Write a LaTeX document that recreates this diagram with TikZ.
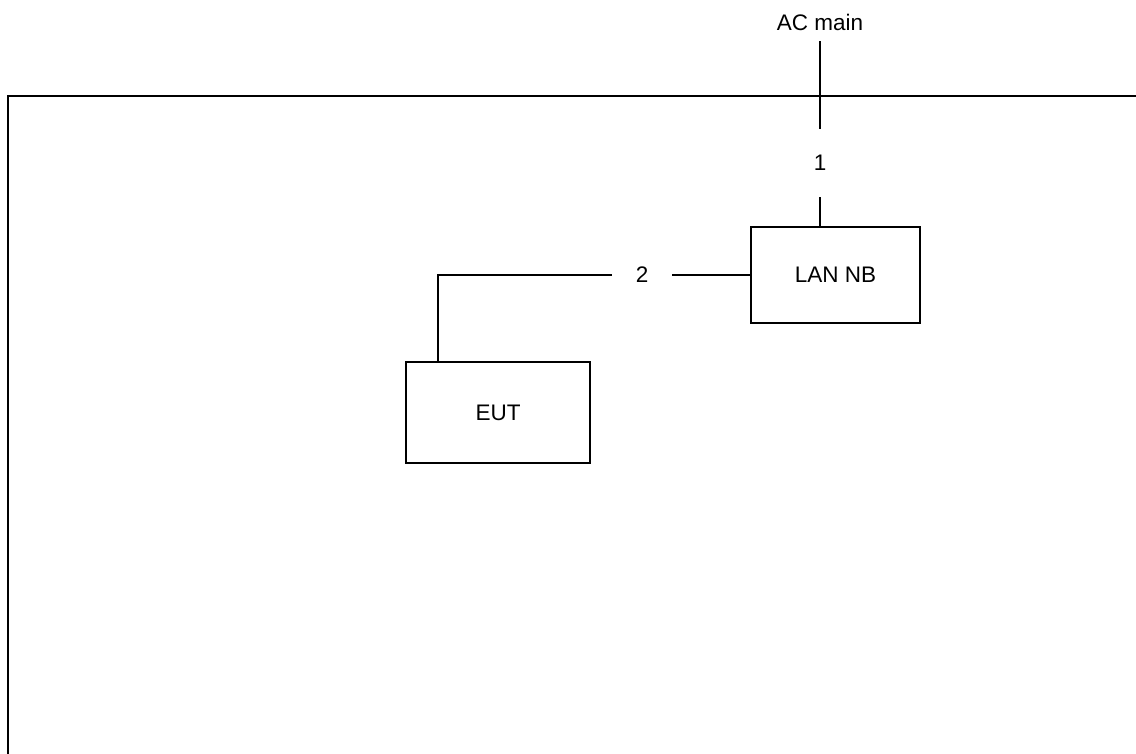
\documentclass[tikz,border=0pt]{standalone}
\usepackage{fontspec}
\setmainfont{Liberation Sans}
\usetikzlibrary{positioning}

\begin{document}
\begin{tikzpicture}[
    unit/.style={rectangle, draw, line width=1.1pt, inner sep=0pt},
    gaplabel/.style={inner sep=0pt},
    wire/.style={line width=1.1pt},
    every node/.style={font=\fontsize{16}{19}\selectfont}
]

\useasboundingbox (0,0) rectangle (28.4,-18.85);

% --- Outer frame ---
\draw[wire] (28.5,-2.4) -- (0.2,-2.4) -- (0.2,-19);

% --- Units ---
\node[unit, minimum width=4.225cm, minimum height=2.4cm] (lan) at (20.8875,-6.875) {LAN NB};
\node[unit, minimum width=4.6cm, minimum height=2.525cm] (eut) at (12.45,-10.3125) {EUT};

% --- Supply and line labels ---
\node[gaplabel, minimum height=0.95cm] (acmain) at (20.5,-0.55) {AC main};
\node[gaplabel, minimum height=1.7cm] (one) at (20.5,-4.075) {1};
\node[gaplabel, minimum width=1.5cm] (two) at (16.05,-6.875) {2};
\coordinate (bend) at (10.95,-6.875);

% --- Connections ---
\draw[wire] (acmain.south) -- (one.north);
\draw[wire] (one.south) -- (one.south |- lan.north);
\draw[wire] (lan.west) -- (two.east);
\draw[wire] (two.west) -- (bend) -- (bend |- eut.north);

\end{tikzpicture}
\end{document}
